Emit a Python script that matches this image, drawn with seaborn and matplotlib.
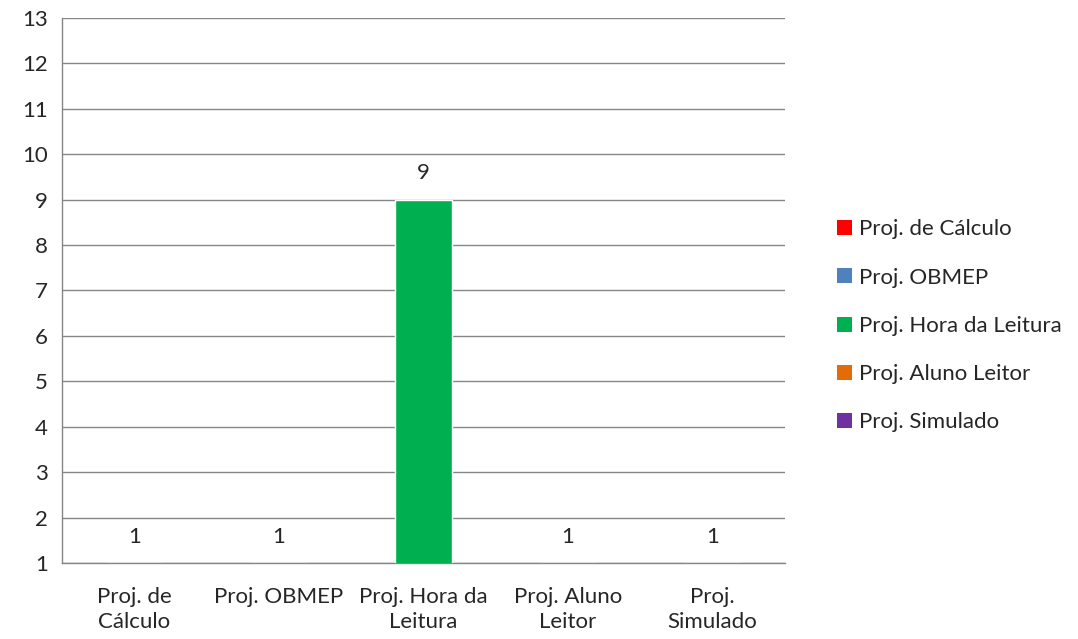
import pandas as pd
import matplotlib
matplotlib.use("Agg")
import matplotlib.pyplot as plt
import seaborn as sns
from matplotlib.patches import Patch

# ------------------ Data ------------------

categories = ["Proj. de Cálculo", "Proj. OBMEP", "Proj. Hora da Leitura",
              "Proj. Aluno Leitor", "Proj. Simulado"]
tick_labels = ["Proj. de\nCálculo", "Proj. OBMEP", "Proj. Hora da\nLeitura",
               "Proj. Aluno\nLeitor", "Proj.\nSimulado"]
values = [1, 1, 9, 1, 1]
colors = ["#FF0000", "#4F81BD", "#00B050", "#E36C09", "#7030A0"]

df = pd.DataFrame({"projeto": categories, "qtd": values})

# ------------------ Style ------------------

sns.set_style("white")
plt.rcParams["font.family"] = ["Lato", "DejaVu Sans"]
fs = 16

fig = plt.figure(figsize=(10.78, 6.39), dpi=100)
ax = fig.add_axes([0.0575, 0.119, 0.6705, 0.853])

sns.barplot(data=df, x="projeto", y="qtd", hue="projeto", palette=colors,
            width=0.39, legend=False, saturation=1, ax=ax, zorder=3)

ax.set_ylim(1, 13)
ax.set_yticks(range(1, 14))
ax.set_xlim(-0.5, len(categories) - 0.5)
ax.set_xticks(range(len(categories)))
ax.set_xticklabels(tick_labels, fontsize=fs, linespacing=1.35, va="top")
ax.tick_params(axis="x", which="major", length=0, pad=17)
ax.set_xticks([i - 0.5 for i in range(len(categories) + 1)], minor=True)
ax.tick_params(axis="x", which="minor", length=6, color="#868686", width=1)
ax.tick_params(axis="y", length=6, color="#868686", width=1, labelsize=fs, pad=4)
ax.set_xlabel("")
ax.set_ylabel("")

ax.grid(axis="y", color="#868686", linewidth=1, zorder=0)
for s in ["top", "right"]:
    ax.spines[s].set_visible(False)
for s in ["left", "bottom"]:
    ax.spines[s].set_color("#868686")
    ax.spines[s].set_linewidth(1)

# value labels
for i, v in enumerate(values):
    ax.annotate(str(v), xy=(i, v), xytext=(0, 19), textcoords="offset points",
                ha="center", va="center", fontsize=fs, annotation_clip=False)

# ------------------ Legend ------------------

handles = [Patch(facecolor=c, edgecolor="none") for c in colors]
fig.legend(handles, categories, loc="center left", bbox_to_anchor=(0.758, 0.49),
           frameon=False, handlelength=0.65, handleheight=0.65, handletextpad=0.35,
           labelspacing=1.27, fontsize=fs)

plt.savefig("out.png", dpi=100)
